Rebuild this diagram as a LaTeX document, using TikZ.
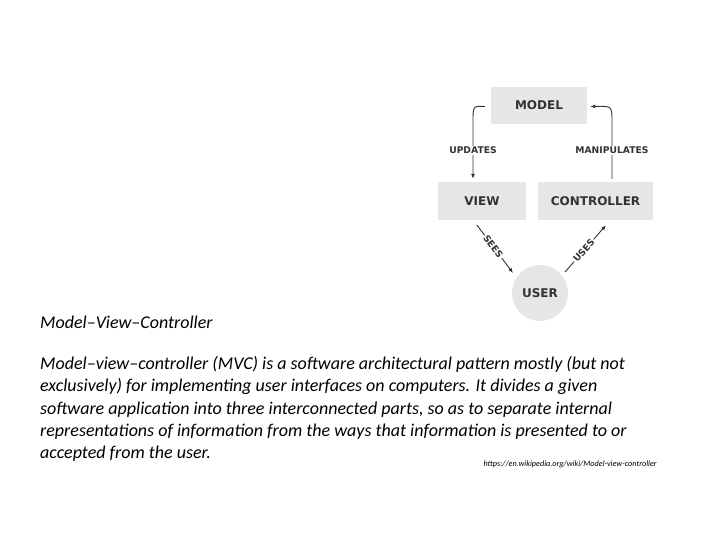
\documentclass[tikz,border=0pt]{standalone}
\usepackage{fontspec}
\setmainfont{Carlito}
\newfontfamily\diagfont{DejaVu Sans}
\usetikzlibrary{arrows.meta,positioning}
\definecolor{boxgray}{HTML}{E6E6E6}
\definecolor{inkgray}{HTML}{333333}
\tikzset{
  box/.style={fill=boxgray, minimum height=37pt, inner sep=0pt, text=inkgray,
    font=\diagfont\bfseries\fontsize{12}{14}\selectfont},
  userball/.style={circle, fill=boxgray, minimum size=56pt, inner sep=0pt, text=inkgray,
    font=\diagfont\bfseries\fontsize{12}{14}\selectfont},
  link/.style={draw=inkgray, line width=0.9pt, -{Latex[length=5pt,width=4pt]}},
  tag/.style={fill=white, inner sep=1.2pt, text=inkgray,
    font=\diagfont\bfseries\fontsize{9.2}{11}\selectfont},
  prose/.style={inner sep=0pt, font=\itshape\fontsize{18}{22.3}\selectfont}
}
\begin{document}
\begin{tikzpicture}[x=1pt, y=-1pt]
    \useasboundingbox (0,0) rectangle (720,540);
    % Nodes
    \node (model) [box, minimum width=96pt] at (539,105.5) {MODEL};
    \node (view) [box, minimum width=88pt, minimum height=38pt] at (482,201) {VIEW};
    \node (controller) [box, minimum width=115pt, minimum height=38pt] at (595.5,201) {CONTROLLER};
    \node (user) [userball] at (540,293) {USER};
    \coordinate (updbend) at (473,122);
    \coordinate (manbend) at (612,122);

    % Edges
    \draw[link] ([shift={(-6,1)}]model.west) .. controls (473,106) .. (updbend)
        -- node[tag] {UPDATES} ([shift={(-9,-3)}]view.north);
    \draw[link] ([shift={(16.5,-3)}]controller.north) -- node[tag] {MANIPULATES} (manbend)
        .. controls (612,106) .. ([shift={(3,1)}]model.east);
    \draw[link] ([shift={(-5,5)}]view.south) -- node[tag, sloped, pos=0.45] {SEES}
        ([shift={(-27,-20)}]user.center);
    \draw[link] ([shift={(25,-21)}]user.center) -- node[tag, sloped, pos=0.46] {USES}
        ([shift={(10.5,5)}]controller.south);

    % Text
    \node (title) [prose, anchor=base west] at (40,328.5) {Model–View–Controller};
    \node (body) [prose, anchor=base west, align=left] at (40,458.7) {Model–view–controller (MVC) is a software architectural pattern mostly (but not\\
exclusively) for implementing user interfaces on computers. It divides a given\\
software application into three interconnected parts, so as to separate internal\\
representations of information from the ways that information is presented to or\\
accepted from the user.};
    \node (source) [inner sep=0pt, anchor=base east, font=\itshape\fontsize{8.2}{9}\selectfont]
        at (657,466.5) {https://en.wikipedia.org/wiki/Model-view-controller};
\end{tikzpicture}
\end{document}
